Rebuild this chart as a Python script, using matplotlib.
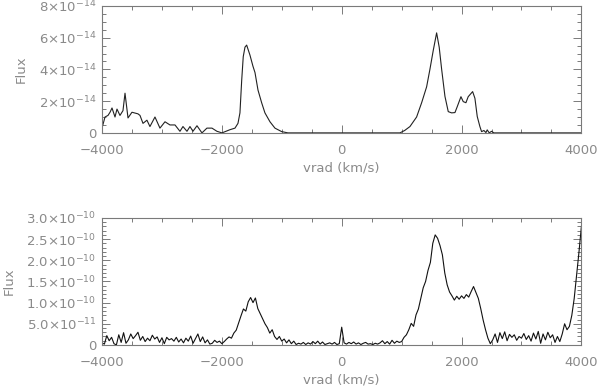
import numpy as np
import matplotlib
matplotlib.use("Agg")
import matplotlib.pyplot as plt
from matplotlib.ticker import FixedLocator, FixedFormatter, MultipleLocator

# ---------------- data ----------------
# top panel: smoothed spectrum (velocity km/s, flux in 1e-14)
v_top = [-4000, -3950, -3900, -3866, -3833, -3783, -3750, -3700, -3650, -3616,
         -3566, -3500, -3450, -3400, -3366, -3316, -3250, -3200, -3116, -3033,
         -2949, -2866, -2782, -2699, -2649, -2582, -2532, -2482, -2415, -2332,
         -2249, -2165, -2082, -1998, -1865, -1781, -1731, -1698, -1669, -1643,
         -1614, -1586, -1531, -1481, -1447, -1397, -1336, -1281, -1197, -1114,
         -1002, -897, 972, 1050, 1139, 1250, 1334, 1417, 1472, 1528,
         1584, 1627, 1668, 1723, 1778, 1834, 1890, 1928, 1990, 2028,
         2073, 2111, 2185, 2223, 2262, 2306, 2334, 2373, 2407, 2428,
         2462, 2500, 2540, 4000]
f_top = [0.3, 1.0, 1.1, 1.3, 1.57, 1.0, 1.5, 1.1, 1.4, 2.5,
         0.94, 1.3, 1.25, 1.2, 1.1, 0.6, 0.8, 0.4, 1.0, 0.3,
         0.7, 0.5, 0.5, 0.1, 0.4, 0.1, 0.4, 0.1, 0.45, 0.0,
         0.3, 0.3, 0.1, 0.0, 0.2, 0.3, 0.6, 1.26, 3.3, 4.8,
         5.4, 5.53, 4.9, 4.2, 3.8, 2.7, 1.9, 1.26, 0.7, 0.3,
         0.08, 0.0, 0.0, 0.15, 0.4, 1.0, 1.9, 2.9, 4.0, 5.2,
         6.3, 5.4, 4.0, 2.3, 1.34, 1.26, 1.28, 1.65, 2.28, 1.97,
         1.9, 2.28, 2.6, 2.18, 1.03, 0.4, 0.08, 0.15, 0.02, 0.19,
         0.0, 0.1, 0.0, 0.0]

# bottom panel: raw spectrum on a 40 km/s grid from -4000 to 4000 (flux in 1e-11)
f_bot = [
    0.5, 0.2, 2.2, 1.0, 1.8, 0.3, 0.0, 2.4, 0.6, 2.9,      # -4000
    0.4, 1.2, 2.6, 1.5, 2.2, 3.0, 1.1, 2.0, 0.8, 1.6,      # -3600
    1.0, 2.3, 1.4, 1.9, 0.6, 1.7, 0.3, 1.8, 1.2, 1.5,      # -3200
    0.9, 1.8, 0.7, 1.4, 0.5, 1.6, 0.9, 2.1, 0.4, 1.5,      # -2800
    2.6, 0.8, 1.9, 0.5, 1.2, 0.2, 0.4, 1.1, 0.6, 0.9,      # -2400
    0.3, 0.8, 1.4, 1.9, 1.6, 2.8, 3.5, 5.2, 6.9, 8.5,      # -2000
    8.0, 10.2, 11.2, 10.0, 11.1, 8.6, 7.4, 6.2, 5.0, 4.1,  # -1600
    2.8, 3.6, 2.0, 1.3, 2.0, 0.9, 1.4, 0.5, 1.2, 0.3,      # -1200
    0.9, 0.1, 0.4, 0.2, 0.6, 0.1, 0.5, 0.2, 0.8, 0.3,      # -800
    0.9, 0.2, 0.7, 0.1, 0.3, 0.5, 0.2, 0.6, 0.1, 0.3,      # -400
    4.2, 0.5, 0.2, 0.6, 0.3, 0.7, 0.2, 0.5, 0.1, 0.4,      # 0
    0.6, 0.2, 0.3, 0.1, 0.4, 0.2, 0.5, 1.0, 0.3, 0.8,      # 400
    0.2, 1.1, 0.4, 0.9, 0.6, 0.8, 1.8, 2.4, 3.6, 5.1,      # 800
    4.4, 7.1, 8.5, 11.0, 13.5, 15.0, 17.6, 19.5, 24.0, 26.0,  # 1200
    25.2, 23.5, 21.3, 17.0, 14.2, 12.5, 11.6, 10.6, 11.5, 10.8,  # 1600
    11.6, 11.0, 11.9, 11.3, 12.6, 13.8, 12.4, 11.0, 8.6, 5.9,  # 2000
    3.6, 1.6, 0.3, 1.2, 2.6, 0.6, 2.9, 1.5, 3.1, 1.0,      # 2400
    2.5, 1.8, 2.4, 1.1, 2.0, 1.6, 2.7, 1.3, 2.2, 0.9,      # 2800
    2.8, 1.4, 3.2, 0.4, 2.6, 1.2, 3.0, 1.7, 2.4, 0.6,      # 3200
    2.0, 0.8, 2.6, 5.0, 3.6, 4.4, 7.0, 11.0, 16.5, 22.0,   # 3600
    28.0,                                                  # 4000
]
v_bot = np.linspace(-4000, 4000, len(f_bot))

x_ticks = [-4000, -2000, 0, 2000, 4000]
x_ticklabels = ["\u22124000", "\u22122000", "0", "2000", "4000"]
top_yticks = [0, 2e-14, 4e-14, 6e-14, 8e-14]
top_yticklabels = ["0", r"$2{\times}10^{-14}$", r"$4{\times}10^{-14}$",
                   r"$6{\times}10^{-14}$", r"$8{\times}10^{-14}$"]
bot_yticks = [0, 5e-11, 1e-10, 1.5e-10, 2e-10, 2.5e-10, 3e-10]
bot_yticklabels = ["0", r"$5.0{\times}10^{-11}$", r"$1.0{\times}10^{-10}$",
                   r"$1.5{\times}10^{-10}$", r"$2.0{\times}10^{-10}$",
                   r"$2.5{\times}10^{-10}$", r"$3.0{\times}10^{-10}$"]

# ---------------- style ----------------
GRAY = "#8a8a8a"
AXC = "#7a7a7a"
FS = 9.5
plt.rcParams["font.family"] = ["DejaVu Sans"]
plt.rcParams["mathtext.default"] = "regular"
plt.rcParams["font.size"] = FS

fig = plt.figure(figsize=(6.0, 3.92), dpi=100)
ax1 = fig.add_axes([0.17, 0.661, 0.799, 0.324])
ax2 = fig.add_axes([0.17, 0.120, 0.799, 0.324])

ax1.plot(v_top, np.array(f_top) * 1e-14, color="#222222", lw=0.8)
ax2.plot(v_bot, np.array(f_bot) * 1e-11, color="#111111", lw=0.8)

def style(ax, yticks, ylabels, ymax, yminor, ylab_x):
    ax.set_xlim(-4000, 4000)
    ax.set_ylim(0, ymax)
    ax.xaxis.set_major_locator(FixedLocator(x_ticks))
    ax.xaxis.set_major_formatter(FixedFormatter(x_ticklabels))
    ax.xaxis.set_minor_locator(MultipleLocator(500))
    ax.yaxis.set_major_locator(FixedLocator(yticks))
    ax.yaxis.set_major_formatter(FixedFormatter(ylabels))
    ax.yaxis.set_minor_locator(MultipleLocator(yminor))
    for s in ax.spines.values():
        s.set_color(AXC)
        s.set_linewidth(0.8)
    ax.tick_params(which="both", direction="in", top=True, right=True,
                   color=AXC, labelcolor=GRAY, width=0.7, labelsize=FS)
    ax.tick_params(which="major", length=6)
    ax.tick_params(which="minor", length=3)
    ax.tick_params(axis="x", pad=8)
    ax.tick_params(axis="y", pad=4)
    ax.set_xlabel("vrad (km/s)", color=GRAY, fontsize=FS, labelpad=3)
    ax.set_ylabel("Flux", color=GRAY, fontsize=FS)
    ax.yaxis.set_label_coords(ylab_x, 0.5)

style(ax1, top_yticks, top_yticklabels, 8e-14, 0.5e-14, -0.155)
style(ax2, bot_yticks, bot_yticklabels, 3e-10, 1e-11, -0.180)

fig.savefig("out.png", dpi=100)
